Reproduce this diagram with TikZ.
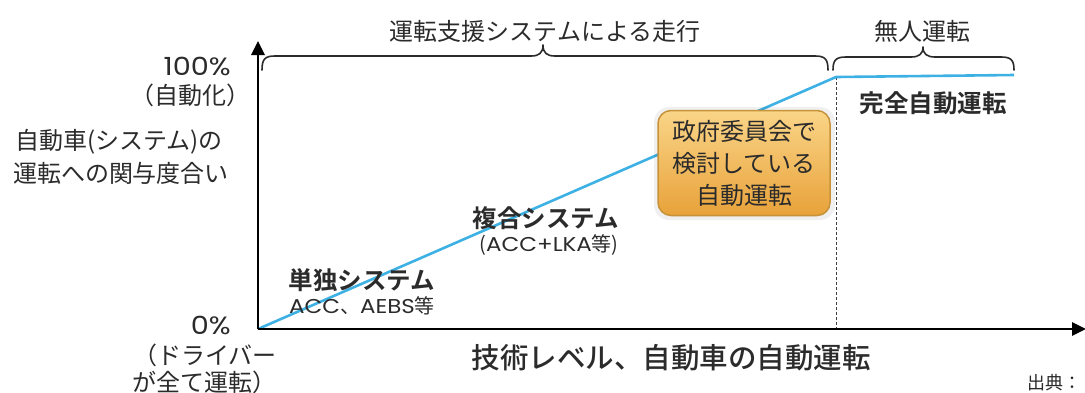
\documentclass[tikz,border=0pt]{standalone}
\usepackage{fontspec}
\setmainfont{Noto Sans CJK JP}[BoldFont={* Bold}]
\newfontfamily\medjp{Noto Sans CJK JP Medium}
\newfontfamily\lat{Poppins}[FakeStretch=1.15]
\usetikzlibrary{arrows.meta,shadings}
\definecolor{txt}{HTML}{2B2B2B}
\definecolor{lineblue}{HTML}{3EB1E4}
\definecolor{boxtop}{HTML}{FAD588}
\definecolor{boxbot}{HTML}{E8A23A}
\definecolor{boxedge}{HTML}{C6923A}
\tikzset{
  lbl/.style={text=txt, font=\fontsize{24}{30}\selectfont, inner sep=0pt},
  sub/.style={text=txt, font=\fontsize{20}{22}\selectfont, inner sep=0pt},
  bold/.style={text=txt, font=\fontsize{24.5}{30}\selectfont\bfseries, inner sep=0pt},
  axis/.style={line width=2.6pt, black, -{Triangle[width=13pt,length=14pt]}},
  brace/.style={line width=1.6pt, txt, line cap=round, line join=round},
  trend/.style={line width=2.6pt, lineblue, line join=round},
  guide/.style={line width=0.9pt, black!75, dashed, dash pattern=on 3pt off 2pt},
  callout/.style={rounded corners=13pt, draw=boxedge, line width=1.5pt,
    top color=boxtop, bottom color=boxbot, text=txt, align=center,
    font=\fontsize{24}{32}\selectfont, inner sep=0pt, minimum width=172pt, minimum height=105pt}
}
\begin{document}
\begin{tikzpicture}[x=1pt,y=-1pt]
\useasboundingbox (0,0) rectangle (1085,392);
% coordinates
\coordinate (O) at (258,329);
\coordinate (Ytip) at (258,41);
\coordinate (Xtip) at (1086,329);
\coordinate (K) at (836,77);
\coordinate (E) at (1014,75);
\coordinate (Kb) at (836,329);
% dashed guide
\draw[guide] (K) -- (Kb);
% trend line
\draw[trend] (O) -- (K) -- (E);
% callout box
\fill[black, opacity=0.06, rounded corners=15pt] (654,107) rectangle (835,220);
\node[callout] (box) at (744,163) {政府委員会で\\検討している\\自動運転};
% axes
\draw[axis] (O) -- (Ytip);
\draw[axis] (O) -- (Xtip);
% braces
\draw[brace] (262,70) .. controls (262,59) and (265,56) .. (275,56) -- (531,56)
  .. controls (539,56) and (543,53) .. (543,45)
  .. controls (543,53) and (547,56) .. (555,56) -- (815,56)
  .. controls (825,56) and (828,59) .. (828,70);
\draw[brace] (833,70) .. controls (833,60) and (836,57) .. (846,57) -- (911,57)
  .. controls (919,57) and (923,54) .. (923,47)
  .. controls (923,54) and (927,57) .. (935,57) -- (1001,57)
  .. controls (1011,57) and (1014,60) .. (1014,70);
% top labels
\node[lbl] (t1) at (545,31) {運転支援システムによる走行};
\node[lbl] (t2) at (922,31) {無人運転};
% y-axis labels
\node[lbl, anchor=east, font=\lat\fontsize{25}{30}\selectfont] (p100) at (231,66) {100\%};
\node[lbl] (p100b) at (190,95) {（自動化）};
\node[lbl] (ya) at (119,142) {自動車(システム)の};
\node[lbl] (yb) at (121,173) {運転への関与度合い};
\node[lbl, anchor=east, font=\lat\fontsize{25}{30}\selectfont] (p0) at (231,325) {0\%};
\node[lbl] (p0b) at (205,355) {（ドライバー};
\node[lbl] (p0c) at (204,382) {が全て運転）};
% x-axis label
\node[text=txt, font=\medjp\fontsize{28.5}{32}\selectfont, inner sep=0pt] (xl) at (671,358) {技術レベル、自動車の自動運転};
% regions
\node[bold] (full) at (933,103) {完全自動運転};
\node[bold] (fuku) at (546,218) {複合システム};
\node[sub] (fukus) at (549,245) {({\lat ACC+LKA}等)};
\node[bold] (tan) at (362,280) {単独システム};
\node[sub] (tans) at (362,306) {{\lat ACC}、{\lat AEBS}等};
% source
\node[sub, anchor=west, font=\fontsize{18}{22}\selectfont] (src) at (1027,383) {出典：};
\end{tikzpicture}
\end{document}
